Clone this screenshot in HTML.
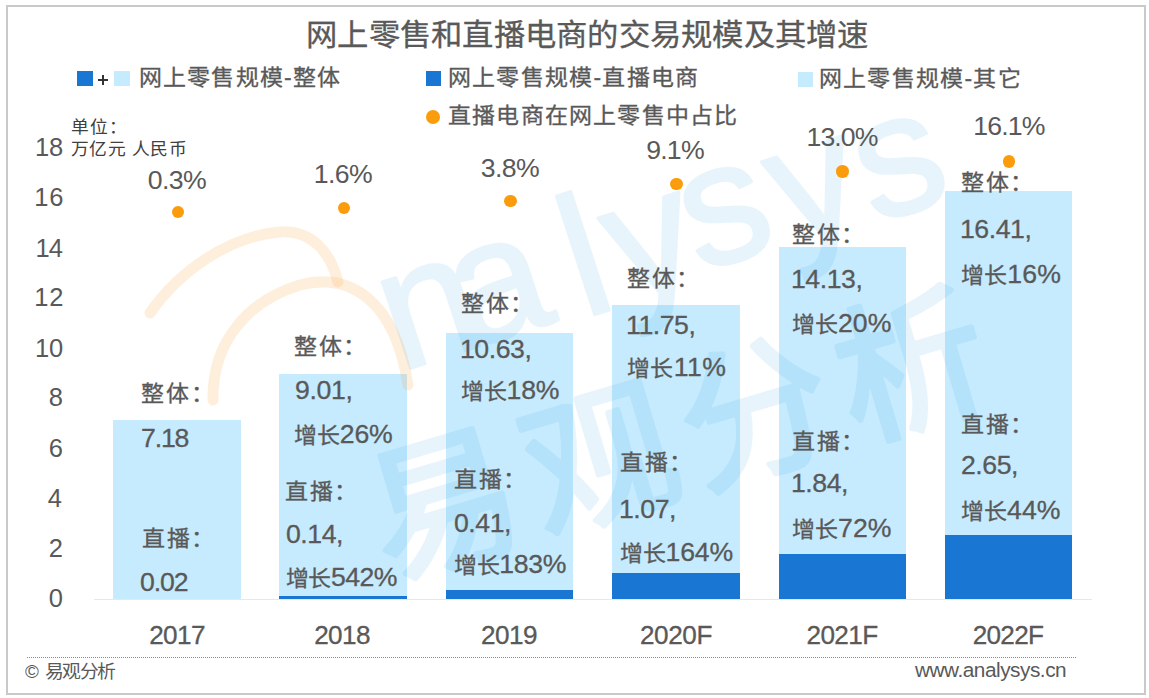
<!DOCTYPE html>
<html lang="zh-CN"><head><meta charset="utf-8"><title>网上零售和直播电商的交易规模及其增速</title>
<style>
html,body{margin:0;padding:0;background:#fff;}
body{width:1149px;height:698px;position:relative;overflow:hidden;font-family:"Liberation Sans",sans-serif;}
.frame{position:absolute;left:6px;top:5px;width:1136px;height:686px;border:2px solid #c9c9c9;}
.t{position:absolute;white-space:nowrap;line-height:1;transform:scaleX(1.045);transform-origin:0 0;-webkit-text-stroke:0.3px currentColor;}
.ns{-webkit-text-stroke:0;}
.bar{position:absolute;width:127.6px;}
.lb{background:#c6ebfe;}
.db{background:#1976d2;}
.dot{position:absolute;width:12.5px;height:12.5px;border-radius:50%;background:#fa9c0b;}
.axis{position:absolute;left:94px;top:599px;width:998px;height:1px;background:#e8e8e8;}
.dotted{position:absolute;left:27px;top:657px;width:1049px;height:1px;background:repeating-linear-gradient(90deg,#8c8c8c 0,#8c8c8c 1px,transparent 1px,transparent 2px);}
.sq{position:absolute;width:15.5px;height:15px;}
</style></head><body>
<div class="frame"></div>
<div class="axis"></div>
<div class="bar lb" style="left:113.00px;top:419.60px;height:179.40px"></div>
<div class="bar lb" style="left:279.40px;top:373.80px;height:225.20px"></div>
<div class="bar db" style="left:279.40px;top:596.00px;height:3.00px"></div>
<div class="bar lb" style="left:445.80px;top:333.05px;height:265.95px"></div>
<div class="bar db" style="left:445.80px;top:589.60px;height:9.40px"></div>
<div class="bar lb" style="left:612.10px;top:304.90px;height:294.10px"></div>
<div class="bar db" style="left:612.10px;top:572.50px;height:26.50px"></div>
<div class="bar lb" style="left:778.50px;top:247.20px;height:351.80px"></div>
<div class="bar db" style="left:778.50px;top:554.10px;height:44.90px"></div>
<div class="bar lb" style="left:944.90px;top:191.20px;height:407.80px"></div>
<div class="bar db" style="left:944.90px;top:535.40px;height:63.60px"></div>
<svg style="position:absolute;left:0;top:0" width="1149" height="698" viewBox="0 0 1149 698">
<g fill="none" stroke="rgba(250,150,30,0.15)" stroke-width="11" stroke-linecap="round">
<path d="M150 313 C 180 270, 230 236, 280 232 C 310 230, 330 250, 338 282"/>
<path d="M213 400 C 212 340, 250 300, 300 285 C 350 272, 395 300, 408 385"/>
</g>
<g opacity="0.085" fill="#008ce6">
<g transform="translate(363 390) rotate(-18)">
<text x="40 112 232 276 356 449 537" y="-6 -6 0 0 -8 -3 0" font-family="Liberation Sans" font-size="172" stroke="#008ce6" stroke-width="3" stroke-linejoin="round">nalysys</text>
</g>
<g transform="translate(387 578) rotate(-16.5)">
<text x="0" y="0" font-family="Liberation Sans" font-size="150" letter-spacing="12.7" stroke="#008ce6" stroke-width="5" stroke-linejoin="round">易观分析</text>
</g>
</g>
</svg>

<div class="dot" style="left:171.75px;top:205.79px"></div>
<div class="dot" style="left:337.85px;top:201.65px"></div>
<div class="dot" style="left:504.25px;top:194.63px"></div>
<div class="dot" style="left:670.25px;top:177.72px"></div>
<div class="dot" style="left:836.45px;top:165.28px"></div>
<div class="dot" style="left:1002.95px;top:155.39px"></div>
<div class="sq" style="left:77.4px;top:71.1px;background:#1976d2"></div>
<div class="sq" style="left:114px;top:71.1px;background:#c6ebfe"></div>
<div class="sq" style="left:425.5px;top:70.8px;background:#1976d2"></div>
<div class="sq" style="left:797.7px;top:71.5px;background:#c6ebfe"></div>
<div class="dot" style="left:426px;top:110px;width:14px;height:14px"></div>
<div style="position:absolute;left:97.8px;top:79.3px;width:10.3px;height:1.6px;background:#333"></div>
<div style="position:absolute;left:102.15px;top:74.9px;width:1.6px;height:10.4px;background:#333"></div>
<div class="dotted"></div>
<div class="t" id="title" style="font-size:30px;color:#595959;letter-spacing:-0.086px;left:306.40px;top:20.40px;">网上零售和直播电商的交易规模及其增速</div>
<div class="t" id="lg1" style="font-size:22px;color:#595959;letter-spacing:1.120px;left:139.40px;top:67.00px;">网上零售规模-整体</div>
<div class="t" id="lg2" style="font-size:22px;color:#595959;letter-spacing:1.200px;left:447.80px;top:67.00px;">网上零售规模-直播电商</div>
<div class="t" id="lg3" style="font-size:22px;color:#595959;letter-spacing:1.200px;left:819.00px;top:67.60px;">网上零售规模-其它</div>
<div class="t" id="lg4" style="font-size:22px;color:#595959;letter-spacing:1.163px;left:447.80px;top:104.80px;">直播电商在网上零售中占比</div>
<div class="t ns" id="unit1" style="font-size:17px;color:#404040;letter-spacing:1.160px;left:71.00px;top:118.60px;">单位：</div>
<div class="t ns" id="unit2" style="font-size:17px;color:#404040;letter-spacing:0.638px;left:71.00px;top:140.60px;">万亿元 人民币</div>
<div class="t ns" id="y18" style="font-size:25.5px;color:#595959;letter-spacing:-0.160px;transform:none;left:-37.00px;top:135.00px;width:100px;text-align:right;">18</div>
<div class="t ns" id="y16" style="font-size:25.5px;color:#595959;letter-spacing:0.640px;transform:none;left:-36.00px;top:185.48px;width:100px;text-align:right;">16</div>
<div class="t ns" id="y14" style="font-size:25.5px;color:#595959;letter-spacing:-0.960px;transform:none;left:-38.00px;top:235.96px;width:100px;text-align:right;">14</div>
<div class="t ns" id="y12" style="font-size:25.5px;color:#595959;letter-spacing:0.640px;transform:none;left:-36.00px;top:285.44px;width:100px;text-align:right;">12</div>
<div class="t ns" id="y10" style="font-size:25.5px;color:#595959;letter-spacing:-0.160px;transform:none;left:-37.00px;top:335.92px;width:100px;text-align:right;">10</div>
<div class="t ns" id="y8" style="font-size:25.5px;color:#595959;transform:none;left:-37.00px;top:385.40px;width:100px;text-align:right;">8</div>
<div class="t ns" id="y6" style="font-size:25.5px;color:#595959;transform:none;left:-37.00px;top:435.88px;width:100px;text-align:right;">6</div>
<div class="t ns" id="y4" style="font-size:25.5px;color:#595959;transform:none;left:-38.00px;top:486.36px;width:100px;text-align:right;">4</div>
<div class="t ns" id="y2" style="font-size:25.5px;color:#595959;transform:none;left:-37.00px;top:535.84px;width:100px;text-align:right;">2</div>
<div class="t ns" id="y0" style="font-size:25.5px;color:#595959;transform:none;left:-37.00px;top:586.32px;width:100px;text-align:right;">0</div>
<div class="t ns" id="p0" style="font-size:25.5px;color:#595959;letter-spacing:-0.533px;transform-origin:50% 0;left:77.00px;top:168.00px;width:200px;text-align:center;">0.3%</div>
<div class="t ns" id="p1" style="font-size:25.5px;color:#595959;letter-spacing:-0.560px;transform-origin:50% 0;left:242.80px;top:162.20px;width:200px;text-align:center;">1.6%</div>
<div class="t ns" id="p2" style="font-size:25.5px;color:#595959;letter-spacing:-0.533px;transform-origin:50% 0;left:410.00px;top:156.00px;width:200px;text-align:center;">3.8%</div>
<div class="t ns" id="p3" style="font-size:25.5px;color:#595959;letter-spacing:-0.720px;transform-origin:50% 0;left:575.40px;top:137.60px;width:200px;text-align:center;">9.1%</div>
<div class="t ns" id="p4" style="font-size:25.5px;color:#595959;letter-spacing:-0.900px;transform-origin:50% 0;left:742.00px;top:125.40px;width:200px;text-align:center;">13.0%</div>
<div class="t ns" id="p5" style="font-size:25.5px;color:#595959;letter-spacing:-0.800px;transform-origin:50% 0;left:908.90px;top:114.40px;width:200px;text-align:center;">16.1%</div>
<div class="t" id="b0_0" style="font-size:25.5px;color:#595959;letter-spacing:1.760px;left:141.20px;top:380.40px;"><span style="font-size:22px">整体：</span></div>
<div class="t" id="b0_1" style="font-size:25.5px;color:#595959;letter-spacing:-1.093px;left:141.40px;top:426.20px;">7.18</div>
<div class="t" id="b0_2" style="font-size:25.5px;color:#595959;letter-spacing:1.600px;left:141.60px;top:524.60px;"><span style="font-size:22px">直播：</span></div>
<div class="t" id="b0_3" style="font-size:25.5px;color:#595959;letter-spacing:-1.015px;left:140.40px;top:569.80px;">0.02</div>
<div class="t" id="b1_0" style="font-size:25.5px;color:#595959;letter-spacing:1.600px;left:294.20px;top:333.20px;"><span style="font-size:22px">整体：</span></div>
<div class="t" id="b1_1" style="font-size:25.5px;color:#595959;letter-spacing:-0.320px;left:294.60px;top:377.80px;">9.01,</div>
<div class="t" id="b1_2" style="font-size:25.5px;color:#595959;letter-spacing:-0.120px;left:294.40px;top:421.80px;"><span style="font-size:22px">增长</span>26%</div>
<div class="t" id="b1_3" style="font-size:25.5px;color:#595959;letter-spacing:1.600px;left:285.40px;top:477.80px;"><span style="font-size:22px">直播：</span></div>
<div class="t" id="b1_4" style="font-size:25.5px;color:#595959;letter-spacing:-0.440px;left:286.00px;top:522.20px;">0.14,</div>
<div class="t" id="b1_5" style="font-size:25.5px;color:#595959;letter-spacing:-0.512px;left:286.00px;top:564.60px;"><span style="font-size:22px">增长</span>542%</div>
<div class="t" id="b2_0" style="font-size:25.5px;color:#595959;letter-spacing:1.600px;left:461.00px;top:290.40px;"><span style="font-size:22px">整体：</span></div>
<div class="t" id="b2_1" style="font-size:25.5px;color:#595959;letter-spacing:-0.440px;left:460.00px;top:336.80px;">10.63,</div>
<div class="t" id="b2_2" style="font-size:25.5px;color:#595959;letter-spacing:-0.180px;left:461.00px;top:378.00px;"><span style="font-size:22px">增长</span>18%</div>
<div class="t" id="b2_3" style="font-size:25.5px;color:#595959;letter-spacing:1.600px;left:454.00px;top:466.00px;"><span style="font-size:22px">直播：</span></div>
<div class="t" id="b2_4" style="font-size:25.5px;color:#595959;letter-spacing:-0.440px;left:454.00px;top:511.40px;">0.41,</div>
<div class="t" id="b2_5" style="font-size:25.5px;color:#595959;letter-spacing:-0.336px;left:454.00px;top:552.00px;"><span style="font-size:22px">增长</span>183%</div>
<div class="t" id="b3_0" style="font-size:25.5px;color:#595959;letter-spacing:1.600px;left:626.80px;top:265.00px;"><span style="font-size:22px">整体：</span></div>
<div class="t" id="b3_1" style="font-size:25.5px;color:#595959;letter-spacing:-0.440px;left:626.00px;top:312.60px;">11.75,</div>
<div class="t" id="b3_2" style="font-size:25.5px;color:#595959;letter-spacing:0.360px;left:627.00px;top:355.40px;"><span style="font-size:22px">增长</span>11%</div>
<div class="t" id="b3_3" style="font-size:25.5px;color:#595959;letter-spacing:1.600px;left:620.00px;top:448.80px;"><span style="font-size:22px">直播：</span></div>
<div class="t" id="b3_4" style="font-size:25.5px;color:#595959;letter-spacing:-0.440px;left:619.00px;top:496.60px;">1.07,</div>
<div class="t" id="b3_5" style="font-size:25.5px;color:#595959;letter-spacing:-0.192px;left:620.00px;top:540.20px;"><span style="font-size:22px">增长</span>164%</div>
<div class="t" id="b4_0" style="font-size:25.5px;color:#595959;letter-spacing:1.600px;left:792.00px;top:221.00px;"><span style="font-size:22px">整体：</span></div>
<div class="t" id="b4_1" style="font-size:25.5px;color:#595959;letter-spacing:-0.440px;left:791.00px;top:267.00px;">14.13,</div>
<div class="t" id="b4_2" style="font-size:25.5px;color:#595959;letter-spacing:0.020px;left:792.00px;top:311.00px;"><span style="font-size:22px">增长</span>20%</div>
<div class="t" id="b4_3" style="font-size:25.5px;color:#595959;letter-spacing:1.600px;left:792.00px;top:427.60px;"><span style="font-size:22px">直播：</span></div>
<div class="t" id="b4_4" style="font-size:25.5px;color:#595959;letter-spacing:-0.440px;left:791.00px;top:471.00px;">1.84,</div>
<div class="t" id="b4_5" style="font-size:25.5px;color:#595959;letter-spacing:0.040px;left:792.00px;top:516.00px;"><span style="font-size:22px">增长</span>72%</div>
<div class="t" id="b5_0" style="font-size:25.5px;color:#595959;letter-spacing:1.600px;left:961.00px;top:169.40px;"><span style="font-size:22px">整体：</span></div>
<div class="t" id="b5_1" style="font-size:25.5px;color:#595959;letter-spacing:-0.440px;left:960.00px;top:217.00px;">16.41,</div>
<div class="t" id="b5_2" style="font-size:25.5px;color:#595959;letter-spacing:0.120px;left:961.00px;top:262.00px;"><span style="font-size:22px">增长</span>16%</div>
<div class="t" id="b5_3" style="font-size:25.5px;color:#595959;letter-spacing:1.600px;left:961.00px;top:410.60px;"><span style="font-size:22px">直播：</span></div>
<div class="t" id="b5_4" style="font-size:25.5px;color:#595959;letter-spacing:-0.440px;left:961.00px;top:453.40px;">2.65,</div>
<div class="t" id="b5_5" style="font-size:25.5px;color:#595959;letter-spacing:0.040px;left:961.00px;top:498.00px;"><span style="font-size:22px">增长</span>44%</div>
<div class="t" id="x0" style="font-size:25px;color:#595959;letter-spacing:-0.588px;transform-origin:50% 0;left:76.50px;top:623.00px;width:200px;text-align:center;">2017</div>
<div class="t" id="x1" style="font-size:25px;color:#595959;letter-spacing:-0.612px;transform-origin:50% 0;left:242.00px;top:623.00px;width:200px;text-align:center;">2018</div>
<div class="t" id="x2" style="font-size:25px;color:#595959;letter-spacing:-0.534px;transform-origin:50% 0;left:408.50px;top:623.00px;width:200px;text-align:center;">2019</div>
<div class="t" id="x3" style="font-size:25px;color:#595959;letter-spacing:-0.380px;transform-origin:50% 0;left:576.10px;top:623.00px;width:200px;text-align:center;">2020F</div>
<div class="t" id="x4" style="font-size:25px;color:#595959;letter-spacing:-0.600px;transform-origin:50% 0;left:742.10px;top:623.00px;width:200px;text-align:center;">2021F</div>
<div class="t" id="x5" style="font-size:25px;color:#595959;letter-spacing:-0.680px;transform-origin:50% 0;left:908.10px;top:623.00px;width:200px;text-align:center;">2022F</div>
<div class="t ns" id="copy" style="font-size:18px;color:#595959;left:25.00px;top:663.40px;">©</div>
<div class="t ns" id="yg" style="font-size:18px;color:#595959;letter-spacing:-1.255px;left:45.40px;top:662.60px;">易观分析</div>
<div class="t ns" id="www" style="font-size:19.9px;color:#595959;letter-spacing:-0.452px;left:914.60px;top:661.00px;">www.analysys.cn</div>
</body></html>
